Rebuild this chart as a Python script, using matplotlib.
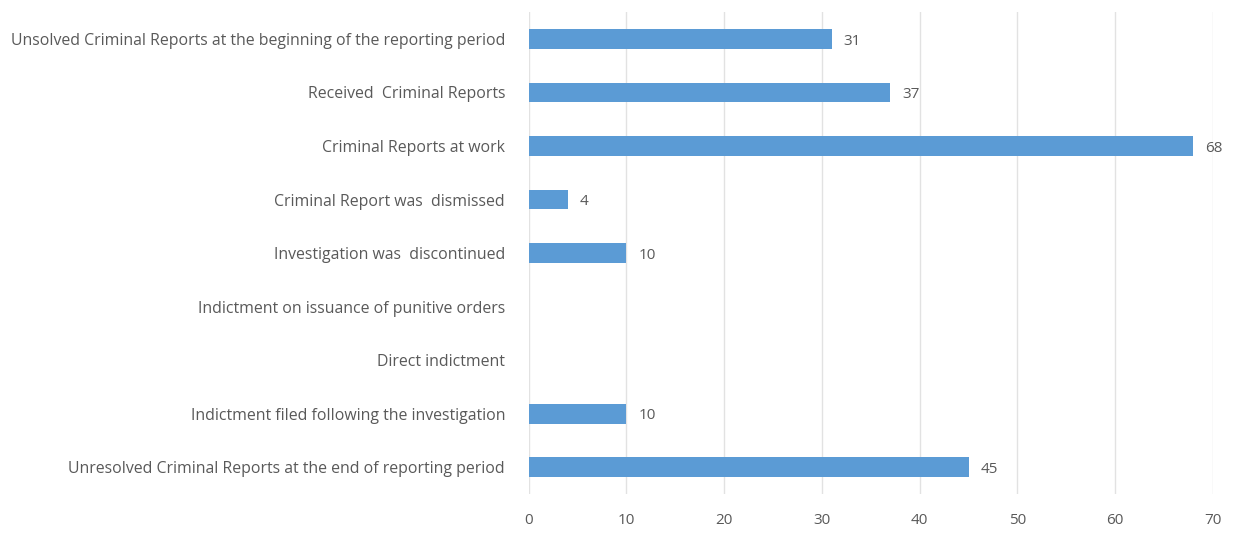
import matplotlib.pyplot as plt

# categories top to bottom
categories = [
    "Unsolved Criminal Reports at the beginning of the reporting period",
    "Received  Criminal Reports",
    "Criminal Reports at work",
    "Criminal Report was  dismissed",
    "Investigation was  discontinued",
    "Indictment on issuance of punitive orders",
    "Direct indictment",
    "Indictment filed following the investigation",
    "Unresolved Criminal Reports at the end of reporting period",
]
values = [31, 37, 68, 4, 10, None, None, 10, 45]
xticks = [0, 10, 20, 30, 40, 50, 60, 70]

plt.rcParams['font.family'] = ['Open Sans', 'DejaVu Sans']
text_color = "#595959"
bar_color = "#5b9bd5"

fig = plt.figure(figsize=(12.44, 5.39), dpi=100)
ax = fig.add_axes([0.425, 0.0835, 0.55, 0.894])

ypos = list(range(len(categories)))
for y, v in zip(ypos, values):
    if v is None:
        continue
    ax.barh(y, v, height=0.37, color=bar_color, zorder=3)
    ax.text(v + 1.2, y + 0.04, str(v), va="center", ha="left", fontsize=11, color=text_color)

ax.set_yticks(ypos)
ax.set_yticklabels(categories, fontsize=11.4, color=text_color)
ax.set_ylim(len(categories) - 0.5, -0.5)
ax.set_xlim(0, 70)
ax.set_xticks(xticks)
ax.set_xticklabels([str(t) for t in xticks], fontsize=11, color=text_color)
ax.tick_params(axis="both", length=0)
ax.tick_params(axis="y", pad=17)
ax.tick_params(axis="x", pad=14)
ax.grid(axis="x", color="#e2e2e2", linewidth=1, zorder=0)
for s in ax.spines.values():
    s.set_visible(False)

fig.savefig("out.png", dpi=100)
